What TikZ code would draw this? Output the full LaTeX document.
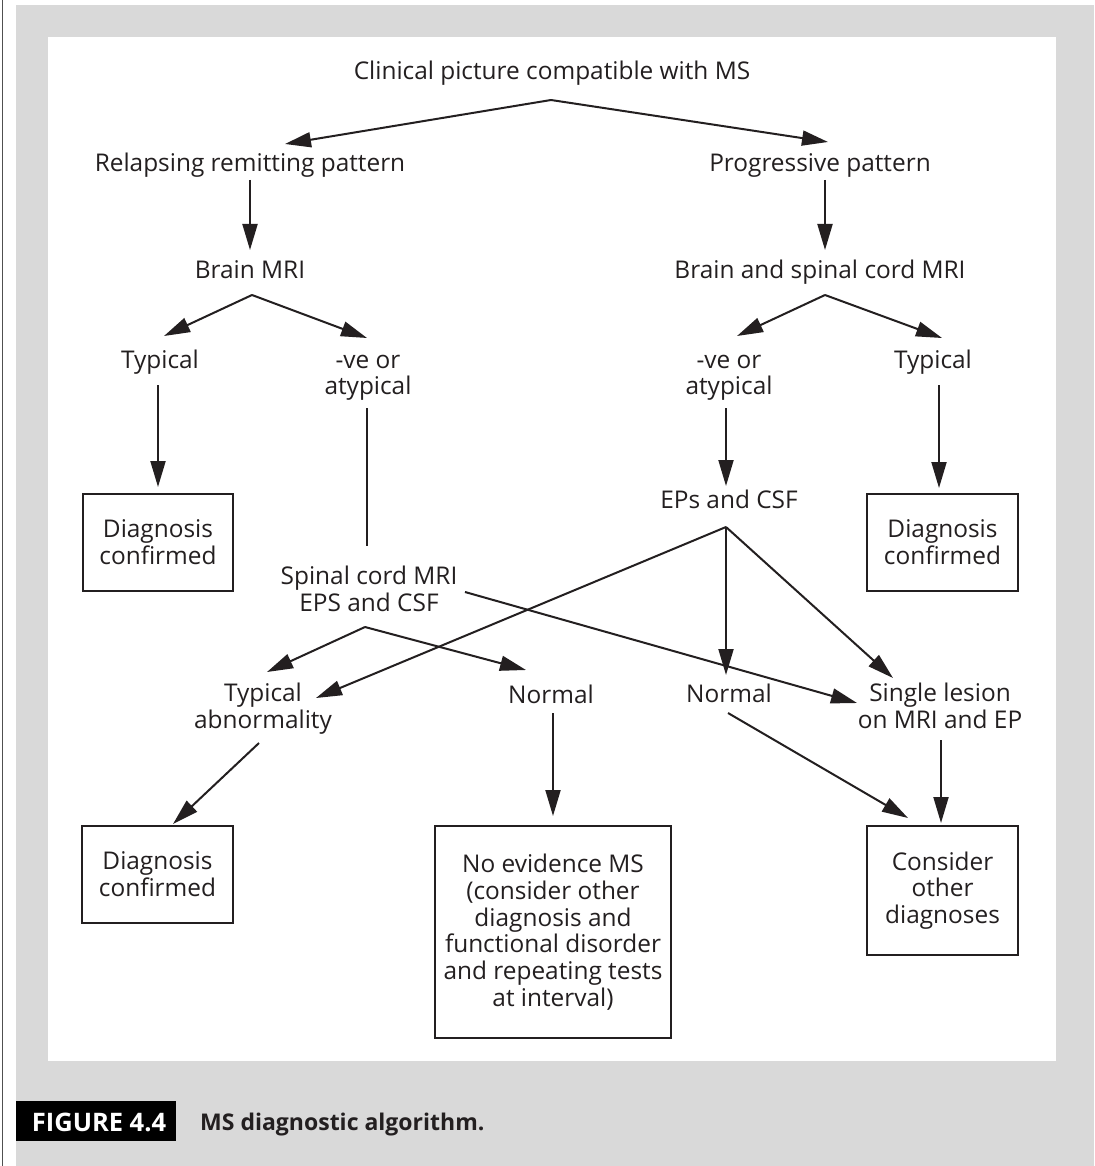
\documentclass[tikz,border=0pt]{standalone}
\usepackage{fontspec}
\setmainfont{Open Sans}
\usetikzlibrary{arrows.meta}
\definecolor{ink}{HTML}{231F20}
\definecolor{panelgray}{HTML}{D9D9D9}
\definecolor{edgegray}{HTML}{505050}
\begin{document}
\begin{tikzpicture}[x=1pt,y=-1pt,
  lbl/.style={inner sep=0pt, anchor=base, align=center, text=ink,
    font=\fontsize{24.4}{26.7}\selectfont},
  boxnode/.style={draw=ink, line width=2.3pt, inner sep=0pt, align=center, text=ink,
    font=\fontsize{24.4}{26.7}\selectfont},
  arr/.style={draw=ink, line width=2pt, -{Triangle[length=26pt,width=15pt]}},
  ln/.style={draw=ink, line width=2pt}
]
\useasboundingbox (0,0) rectangle (1094,1166);
% background and frame
\fill[white] (0,0) rectangle (1094,1166);
\draw[edgegray, line width=1.6pt] (2.5,0) -- (2.5,1166);
\fill[panelgray] (16,5) rectangle (1094,1166);
\fill[white] (48,37) rectangle (1056,1061);
\fill[black] (16,1101) rectangle (176,1141);
\node[inner sep=0pt, anchor=base, text=white, font=\bfseries\fontsize{25.5}{28}\selectfont] (figlbl) at (99,1131) {FIGURE 4.4};
\node[inner sep=0pt, anchor=base west, text=ink, font=\bfseries\fontsize{23}{26}\selectfont] (caption) at (200,1130) {MS diagnostic algorithm.};

% text nodes (anchor base = baseline of the last line)
\node[lbl] (clin) at (552,80) {Clinical picture compatible with MS};
\node[lbl] (rr) at (250,172) {Relapsing remitting pattern};
\node[lbl] (prog) at (820,172) {Progressive pattern};
\node[lbl] (bmri) at (250,278) {Brain MRI};
\node[lbl] (bsmri) at (820,278) {Brain and spinal cord MRI};
\node[lbl] (typL) at (160,368) {Typical};
\node[lbl] (atypL) at (368,394.7) {-ve or\\atypical};
\node[lbl] (atypR) at (729,394.7) {-ve or\\atypical};
\node[lbl] (typR) at (933,368) {Typical};
\node[lbl] (eps) at (729,508) {EPs and CSF};
\node[lbl] (spinal) at (369,611.5) {Spinal cord MRI\\EPS and CSF};
\node[lbl] (tabn) at (263,728.5) {Typical\\abnormality};
\node[lbl] (normM) at (551,703) {Normal};
\node[lbl] (normR) at (729,702) {Normal};
\node[lbl] (single) at (940,728.5) {Single lesion\\on MRI and EP};

% boxes
\node[boxnode, minimum width=150pt, minimum height=97pt] (dxTL) at (158,542.5) {Diagnosis\\confirmed};
\node[boxnode, minimum width=151pt, minimum height=97pt] (dxTR) at (942.5,542.5) {Diagnosis\\confirmed};
\node[boxnode, minimum width=151pt, minimum height=97pt] (dxBL) at (157.5,874.5) {Diagnosis\\confirmed};
\node[boxnode, minimum width=236pt, minimum height=212pt] (noev) at (553,932) {No evidence MS\\(consider other\\diagnosis and\\functional disorder\\and repeating tests\\at interval)};
\node[boxnode, minimum width=151pt, minimum height=129pt] (cons) at (942.5,890.5) {Consider\\other\\diagnoses};

% connector end points
\coordinate (clin-j) at (551,100);
\coordinate (rr-in) at (285,144);
\coordinate (prog-in) at (828,142);
\coordinate (rr-out) at (250,180);
\coordinate (bmri-in) at (250,250);
\coordinate (prog-out) at (825,180);
\coordinate (bsmri-in) at (825,250);
\coordinate (bmri-j) at (252,295);
\coordinate (typL-in) at (164,336);
\coordinate (atypL-in) at (367,338);
\coordinate (bsmri-j) at (825,295);
\coordinate (atypR-in) at (737,336);
\coordinate (typR-in) at (942,338);
\coordinate (typL-out) at (158,385);
\coordinate (dxTL-in) at (158,487);
\coordinate (atypL-out) at (367,408);
\coordinate (spinal-in) at (367,546);
\coordinate (atypR-out) at (726,408);
\coordinate (eps-in) at (726,486);
\coordinate (typR-out) at (939,385);
\coordinate (dxTR-in) at (939,488);
\coordinate (eps-j) at (726,527);
\coordinate (tabn-in2) at (316,698);
\coordinate (normR-in) at (726,675);
\coordinate (single-in1) at (893,678);
\coordinate (spinal-out) at (465,592);
\coordinate (single-in2) at (857,703);
\coordinate (spinal-j) at (365,627);
\coordinate (tabn-in1) at (267,672);
\coordinate (normM-in) at (526,670);
\coordinate (tabn-out) at (259,743);
\coordinate (dxBL-in) at (173,824);
\coordinate (normM-out) at (553,713);
\coordinate (noev-in) at (553,816);
\coordinate (normR-out) at (728,713);
\coordinate (cons-in1) at (908,818);
\coordinate (single-out) at (941,740);
\coordinate (cons-in2) at (941,823);

% connectors
\draw[arr] (clin-j) -- (rr-in);
\draw[arr] (clin-j) -- (prog-in);
\draw[arr] (rr-out) -- (bmri-in);
\draw[arr] (prog-out) -- (bsmri-in);
\draw[arr] (bmri-j) -- (typL-in);
\draw[arr] (bmri-j) -- (atypL-in);
\draw[arr] (bsmri-j) -- (atypR-in);
\draw[arr] (bsmri-j) -- (typR-in);
\draw[arr] (typL-out) -- (dxTL-in);
\draw[ln] (atypL-out) -- (spinal-in);
\draw[arr] (atypR-out) -- (eps-in);
\draw[arr] (typR-out) -- (dxTR-in);
\draw[arr] (eps-j) -- (tabn-in2);
\draw[arr] (eps-j) -- (normR-in);
\draw[arr] (eps-j) -- (single-in1);
\draw[arr] (spinal-out) -- (single-in2);
\draw[arr] (spinal-j) -- (tabn-in1);
\draw[arr] (spinal-j) -- (normM-in);
\draw[arr] (tabn-out) -- (dxBL-in);
\draw[arr] (normM-out) -- (noev-in);
\draw[arr] (normR-out) -- (cons-in1);
\draw[arr] (single-out) -- (cons-in2);
\end{tikzpicture}
\end{document}
